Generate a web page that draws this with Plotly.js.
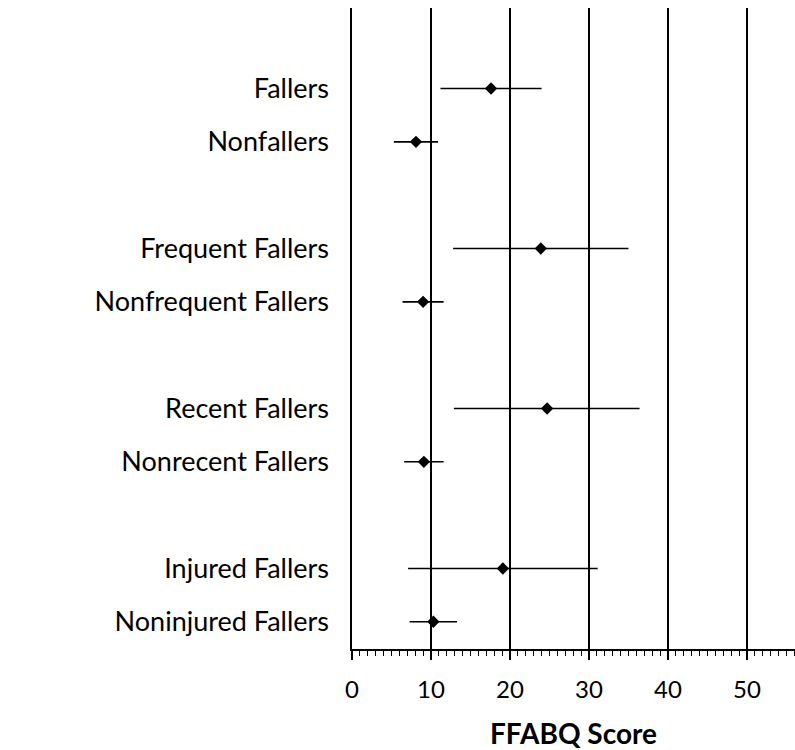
<!DOCTYPE html>
<html>
<head>
<meta charset="utf-8">
<script src="https://cdn.plot.ly/plotly-3.0.1.min.js"></script>
<style>html,body{margin:0;padding:0;background:#fff;}#chart{width:795px;height:750px;}</style>
</head>
<body>
<div id="chart"></div>
<script>
const groupLabels = ["Fallers","Nonfallers","Frequent Fallers","Nonfrequent Fallers","Recent Fallers","Nonrecent Fallers","Injured Fallers","Noninjured Fallers"];
const groupPositions = [0, 1, 3, 4, 6, 7, 9, 10];
const meanScores = [17.6, 8.1, 23.9, 9.0, 24.7, 9.1, 19.1, 10.3];
const lowerBounds = [11.2, 5.3, 12.8, 6.4, 12.9, 6.6, 7.1, 7.3];
const upperBounds = [24.0, 10.9, 35.0, 11.6, 36.4, 11.6, 31.1, 13.3];
const xTickValues = [0, 10, 20, 30, 40, 50];

const plus = meanScores.map((m, i) => upperBounds[i] - m);
const minus = meanScores.map((m, i) => m - lowerBounds[i]);

const trace = {
  type: 'scatter',
  mode: 'markers',
  x: meanScores,
  y: groupPositions,
  marker: {symbol: 'diamond', size: 9.5, color: '#000'},
  error_x: {type: 'data', symmetric: false, array: plus, arrayminus: minus, width: 0, thickness: 1.6, color: '#000'},
  cliponaxis: false,
  hoverinfo: 'x+y'
};

const font = 'Lato, "Open Sans", sans-serif';
const layout = {
  width: 795, height: 750,
  margin: {l: 352, r: 0, t: 8, b: 101},
  paper_bgcolor: '#fff', plot_bgcolor: '#fff',
  showlegend: false,
  font: {family: font, color: '#000', size: 24},
  xaxis: {
    range: [0, 56.08],
    tickvals: xTickValues,
    ticktext: xTickValues.map(String),
    showgrid: true, gridcolor: '#000', gridwidth: 1.6,
    zeroline: false,
    showline: true, linecolor: '#000', linewidth: 1.6,
    ticks: 'outside', ticklen: 9, tickwidth: 1.2, tickcolor: '#000',
    minor: {dtick: 1, ticks: 'outside', ticklen: 5, tickwidth: 1, tickcolor: '#000', showgrid: false},
    tickfont: {family: font, size: 24, color: '#000'},
    ticklabelstandoff: 10,
    title: {text: '<b>FFABQ Score</b>', font: {family: font, size: 28, color: '#000'}, standoff: 24},
    fixedrange: true
  },
  yaxis: {
    range: [10.51, -1.51],
    tickvals: groupPositions,
    ticktext: groupLabels,
    showgrid: false, zeroline: false,
    showline: true, linecolor: '#000', linewidth: 1.6,
    ticks: '', ticklabelstandoff: 16,
    tickfont: {family: font, size: 27, color: '#000'},
    fixedrange: true
  }
};

Plotly.newPlot('chart', [trace], layout, {displayModeBar: false, staticPlot: true});
</script>
</body>
</html>
